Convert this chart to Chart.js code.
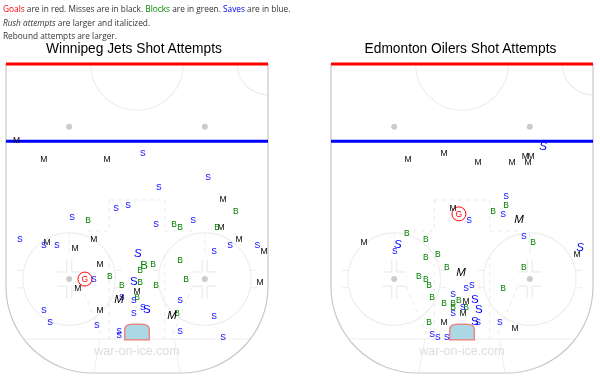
<!DOCTYPE html>
<html>
<head>
<meta charset="utf-8">
<script src="https://cdn.jsdelivr.net/npm/chart.js@4"></script>
<style>
body { margin: 0; background: #fff; overflow: hidden; }
#notes { position: absolute; left: 3px; top: 2px; font: 8.3px/13.5px "Open Sans"; color: #333; white-space: nowrap; filter: blur(0.3px); }
.title { position: absolute; top: 41px; font: 13.75px/16px "Liberation Sans"; color: #000; text-align: center; white-space: nowrap; filter: blur(0.3px); }
#jetsTitle { left: 34px; width: 200px; }
#oilersTitle { left: 360.5px; width: 200px; }
canvas { filter: blur(0.3px); }
#jets { position: absolute; left: -1px; top: 36px; }
#oilers { position: absolute; left: 327px; top: 36px; }
</style>
</head>
<body>
<div id="notes">
    <span style="color:#f00">Goals</span> are in red. Misses are in black. <span style="color:#080">Blocks</span> are in green. <span style="color:#00f">Saves</span> are in blue.<br>
    <i>Rush attempts</i> are larger and italicized.<br>
    Rebound attempts are larger.
</div>
<div class="title" id="jetsTitle">Winnipeg Jets Shot Attempts</div>
<div class="title" id="oilersTitle">Edmonton Oilers Shot Attempts</div>
<canvas id="jets" width="270" height="339"></canvas>
<canvas id="oilers" width="268" height="339"></canvas>
<script>
// All shot positions are [feet across the rink, feet from the centre line]
const jetsGoals = [[-16.9, 69.6]];
const jetsMisses = [[-39.1, 24.6], [-30.2, 30.7], [-9.7, 30.7], [-29.2, 57.6], [-14, 56.6], [-20.1, 59.5], [27.9, 43.7], [27.3, 52.8], [33.1, 56.6], [41.2, 60.5], [-12, 64.7], [-19.2, 72.5], [0, 73.5], [-12, 79.6], [39.9, 70.6]];
const jetsRushMisses = [[-5.8, 76], [11.4, 81.2]];
const jetsBlocks = [[-15.9, 50.5], [32.1, 47.6], [12, 51.8], [14, 52.8], [26, 52.8], [-8.8, 68.6], [-4.9, 71.5], [1, 70.6], [1, 66.7], [0, 75.4], [5.2, 64.7], [14, 63.4], [15.9, 69.6], [6.2, 71.5], [13, 80.6]];
const jetsReboundBlocks = [[2.3, 65]];
const jetsSaves = [[1.9, 28.8], [-6.8, 46.6], [-2.9, 45.6], [-21.1, 49.5], [-38, 56.6], [-30.2, 58.6], [-26, 58.6], [23.1, 36.6], [7.1, 39.8], [18.2, 50.5], [6.2, 51.8], [30.2, 58.6], [39, 58.6], [25, 60.5], [-14, 69.6], [-4.9, 75.4], [-1, 76.4], [-1, 80.6], [1.9, 78.6], [-30.2, 79.6], [-28.2, 83.5], [-13, 84.5], [-5.8, 86.4], [-5.8, 87.7], [14, 76.4], [25, 81.6], [14, 86.4], [27.9, 88.3]];
const jetsRushSaves = [[0.3, 61.2]];
const jetsReboundSaves = [[-1, 70.2], [3.2, 79.3]];

const oilersGoals = [[-1, 48.5]];
const oilersMisses = [[-17.5, 30.7], [-5.8, 28.8], [-2.9, 46.6], [-31.8, 57.6], [20.5, 29.8], [22.4, 29.8], [5.2, 31.7], [16.2, 31.7], [21.4, 31.7], [37.3, 61.5], [1.3, 76.7], [0.3, 80.6], [-5.8, 83.5], [17.2, 85.4]];
const oilersRushMisses = [[18.5, 50.2], [-0.3, 67.3]];
const oilersBlocks = [[-17.9, 54.7], [-11.7, 56.6], [-7.8, 61.5], [-11.7, 62.5], [-4.9, 65.7], [-14, 68.6], [-11.7, 69.6], [-10.7, 71.5], [-9.7, 75.4], [-5.8, 77.3], [-2.9, 77.3], [-2.9, 78.6], [-1, 76.4], [1.3, 78.6], [-10.7, 83.5], [14.3, 45.6], [10.1, 47.6], [23.1, 57.6], [20.1, 65.7], [13.3, 72.5]];
const oilersSaves = [[-21.8, 60.5], [14.3, 42.7], [13.3, 48.5], [2.3, 50.5], [20.1, 55.7], [1.3, 72.5], [3.2, 71.5], [-2.9, 74.4], [0.3, 78.6], [-2.9, 80.6], [-9.7, 87.4], [-7.8, 88.3], [-4.9, 88.3], [5.2, 83.5], [12.3, 83.5]];
const oilersRushSaves = [[26.3, 26.5], [-20.8, 58.3], [38.3, 59.2]];
const oilersReboundSaves = [[4.2, 76], [5.5, 79.3], [4.2, 83.2]];

const smallFont = '8.5px "Liberation Sans"';
const bigFont = '11.5px "Liberation Sans"';
const rushFont = 'italic 11.5px "Liberation Sans"';

// Draws the ice markings in rink feet, through the chart's scales
const rinkPlugin = {
    id: 'rink',
    beforeDatasetsDraw(chart) {
        const ctx = chart.ctx;
        const sx = chart.scales.x;
        const sy = chart.scales.y;
        const X = v => sx.getPixelForValue(v);
        const Y = v => sy.getPixelForValue(v);
        const ft = sx.width / 85;

        function line(x1, y1, x2, y2, color, width, dash) {
            ctx.beginPath();
            ctx.setLineDash(dash || []);
            ctx.strokeStyle = color;
            ctx.lineWidth = width;
            ctx.moveTo(X(x1), Y(y1));
            ctx.lineTo(X(x2), Y(y2));
            ctx.stroke();
            ctx.setLineDash([]);
        }
        function circle(x, y, r, color, width) {
            ctx.beginPath();
            ctx.strokeStyle = color;
            ctx.lineWidth = width;
            ctx.arc(X(x), Y(y), r * ft, 0, Math.PI * 2);
            ctx.stroke();
        }

        ctx.save();
        ctx.beginPath();
        ctx.rect(sx.left - 2, sy.top - 2, sx.width + 4, sy.height + 4);
        ctx.clip();

        const light = '#eeeeee';
        const dash = [4, 4];

        // centre ice and referee circles
        circle(0, 0, 15, light, 1.2);
        circle(42.5, 0, 10, light, 1.2);
        // goal line and trapezoid
        line(-36.5, 89, 36.5, 89, light, 1.2);
        line(-12, 89, -14, 100, light, 1);
        line(12, 89, 14, 100, light, 1);

        // slot box
        line(-9, 44, 9, 44, light, 1.2, dash);
        line(-9, 44, -9, 54, light, 1.2, dash);
        line(9, 44, 9, 54, light, 1.2, dash);
        line(-16, 54, -9, 54, light, 1.2, dash);
        line(9, 54, 18, 54, light, 1.2, dash);
        line(-9, 62, -9, 89, light, 1.2, dash);
        line(9, 62, 9, 89, light, 1.2, dash);

        // end zone faceoff circles
        [-22, 22].forEach(cx => {
            circle(cx, 69.6, 15, light, 1.2);
            line(cx, 54.6, cx, 62, light, 1.2, dash);
            [-1, 1].forEach(side => {
                // hash marks outside the circle
                line(cx + side * 15, 66.8, cx + side * 17, 66.8, light, 1.2);
                line(cx + side * 15, 72.4, cx + side * 17, 72.4, light, 1.2);
                // L shapes around the dot
                line(cx + side * 0.8, 67.3, cx + side * 3.8, 67.3, light, 1.5);
                line(cx + side * 0.8, 71.9, cx + side * 3.8, 71.9, light, 1.5);
                line(cx + side * 0.8, 67.3, cx + side * 0.8, 63.3, light, 1.5);
                line(cx + side * 0.8, 71.9, cx + side * 0.8, 75.9, light, 1.5);
            });
            line(cx - Math.sign(cx) * 4, 72, cx - Math.sign(cx) * 11, 89, light, 1.2, dash);
            ctx.beginPath();
            ctx.fillStyle = '#cccccc';
            ctx.arc(X(cx), Y(69.6), 3, 0, Math.PI * 2);
            ctx.fill();
            // neutral zone dot
            ctx.beginPath();
            ctx.arc(X(cx), Y(20.3), 3, 0, Math.PI * 2);
            ctx.fill();
        });

        // crease
        ctx.beginPath();
        ctx.moveTo(X(-4), Y(89.2));
        ctx.lineTo(X(-4), Y(86));
        ctx.quadraticCurveTo(X(-4), Y(84.2), X(-1.5), Y(84.2));
        ctx.lineTo(X(1.5), Y(84.2));
        ctx.quadraticCurveTo(X(4), Y(84.2), X(4), Y(86));
        ctx.lineTo(X(4), Y(89.2));
        ctx.closePath();
        ctx.fillStyle = '#add8e6';
        ctx.fill();
        ctx.strokeStyle = '#e88888';
        ctx.lineWidth = 1.5;
        ctx.stroke();

        // boards
        line(-42.5, 0, -42.5, 72, '#dddddd', 2);
        line(42.5, 0, 42.5, 72, '#dddddd', 2);
        ctx.beginPath();
        ctx.strokeStyle = '#c8c8c8';
        ctx.lineWidth = 1.2;
        ctx.moveTo(X(-42.5), Y(72));
        ctx.arcTo(X(-42.5), Y(100), X(-14.5), Y(100), 28 * ft);
        ctx.lineTo(X(14.5), Y(100));
        ctx.arcTo(X(42.5), Y(100), X(42.5), Y(72), 28 * ft);
        ctx.stroke();

        // red and blue lines
        line(-42.5, 0, 42.5, 0, '#ff0000', 3);
        line(-42.5, 25, 42.5, 25, '#0000ff', 3);

        // watermark
        ctx.fillStyle = '#dddddd';
        ctx.font = '12.5px "Liberation Sans"';
        ctx.textAlign = 'center';
        ctx.textBaseline = 'middle';
        ctx.fillText('war-on-ice.com', X(0), Y(93));
        ctx.restore();
    }
};

// Writes each point's letter at the position the library gave that point
const letterPlugin = {
    id: 'letters',
    afterDatasetsDraw(chart) {
        const ctx = chart.ctx;
        ctx.save();
        ctx.textAlign = 'center';
        ctx.textBaseline = 'middle';
        chart.data.datasets.forEach((ds, i) => {
            ctx.fillStyle = ds.letterColor;
            ctx.font = ds.letterFont;
            chart.getDatasetMeta(i).data.forEach(pt => {
                ctx.fillText(ds.letter, pt.x, pt.y + 0.7);
            });
        });
        ctx.restore();
    }
};

function shotSet(points, letter, color, font, radius) {
    return {
        data: points.map(p => ({ x: p[0], y: p[1] })),
        letter: letter,
        letterColor: color,
        letterFont: font,
        pointRadius: radius || 0,
        pointBorderColor: color,
        pointBorderWidth: 1,
        pointBackgroundColor: 'transparent'
    };
}

function drawRink(id, padLeft, padRight, shots) {
    new Chart(document.getElementById(id), {
        type: 'scatter',
        data: {
            datasets: [
                shotSet(shots.misses, 'M', '#000', smallFont),
                shotSet(shots.blocks, 'B', '#008000', smallFont),
                shotSet(shots.saves, 'S', '#0000ff', smallFont),
                shotSet(shots.rushMisses, 'M', '#000', rushFont),
                shotSet(shots.rushSaves, 'S', '#0000ff', rushFont),
                shotSet(shots.reboundBlocks, 'B', '#008000', bigFont),
                shotSet(shots.reboundSaves, 'S', '#0000ff', bigFont),
                shotSet(shots.goals, 'G', '#ff0000', smallFont, 7)
            ]
        },
        options: {
            responsive: false,
            animation: false,
            layout: { autoPadding: false, padding: { left: padLeft, right: padRight, top: 28, bottom: 2 } },
            scales: {
                x: { type: 'linear', min: -42.5, max: 42.5, display: false },
                y: { type: 'linear', min: 0, max: 100, reverse: true, display: false }
            },
            plugins: {
                legend: { display: false },
                tooltip: { enabled: false }
            }
        },
        plugins: [rinkPlugin, letterPlugin]
    });
}

drawRink('jets', 7, 1, {
    goals: jetsGoals, misses: jetsMisses, rushMisses: jetsRushMisses,
    blocks: jetsBlocks, reboundBlocks: jetsReboundBlocks,
    saves: jetsSaves, rushSaves: jetsRushSaves, reboundSaves: jetsReboundSaves
});
drawRink('oilers', 4, 2, {
    goals: oilersGoals, misses: oilersMisses, rushMisses: oilersRushMisses,
    blocks: oilersBlocks, reboundBlocks: [],
    saves: oilersSaves, rushSaves: oilersRushSaves, reboundSaves: oilersReboundSaves
});
</script>
</body>
</html>
